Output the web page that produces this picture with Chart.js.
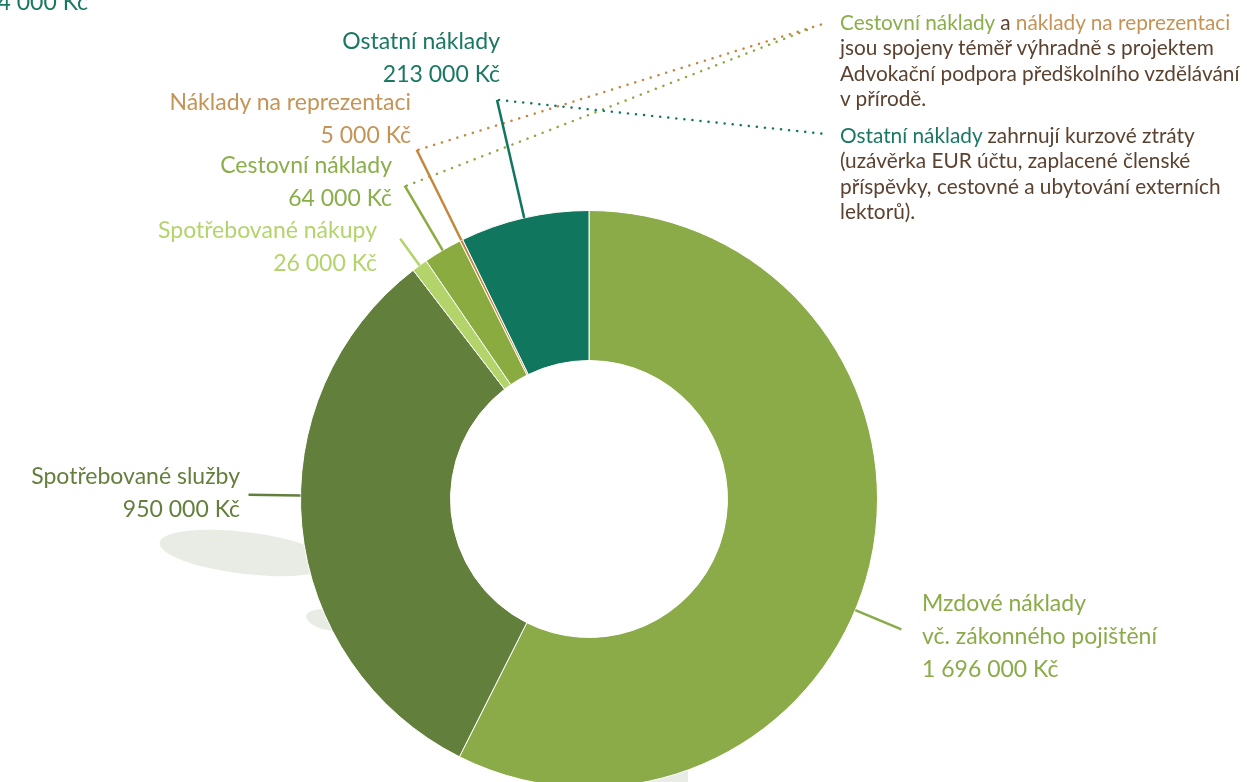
<!DOCTYPE html>
<html lang="cs">
<head>
<meta charset="UTF-8">
<title>Náklady</title>
<script src="https://cdn.jsdelivr.net/npm/chart.js"></script>
<style>
  html, body { margin: 0; padding: 0; overflow: hidden; background: #fff; }
  body { width: 1247px; height: 782px; position: relative; font-family: Lato, "Open Sans", sans-serif; }
  #costChart { position: absolute; left: 0; top: 0; }
  .lbl { position: absolute; font-size: 23px; line-height: 33px; white-space: nowrap; }
  .r { text-align: right; }
  .note { position: absolute; left: 840px; font-size: 20.8px; line-height: 25.5px; color: #5b4230; white-space: nowrap; }
</style>
</head>
<body>
<canvas id="costChart" width="1247" height="800"></canvas>
<div id="labels"></div>
<script>
// data
const categories = ['Mzdové náklady', 'Spotřebované služby', 'Spotřebované nákupy', 'Cestovní náklady', 'Náklady na reprezentaci', 'Ostatní náklady'];
const values = [1696000, 950000, 26000, 64000, 5000, 213000];
const colors = ['#8aab48', '#637f3c', '#b3d46b', '#8aab3f', '#c4873f', '#10765e'];
const textColors = ['#8aab48', '#647f3d', '#b3d46b', '#8aae4c', '#c69356', '#1a7862'];

const fmt = v => String(v).replace(/\B(?=(\d{3})+(?!\d))/g, ' ') + ' Kč';
const total = values.reduce((a, b) => a + b, 0);

// label boxes (page positions)
const labelPos = [
  { left: 922, top: 586, lines: ['Mzdové náklady', 'vč. zákonného pojištění'] },
  { right: 1007, top: 459 },
  { right: 870, top: 213 },
  { right: 855, top: 148 },
  { right: 836, top: 84.5 },
  { right: 747, top: 23.5 }
];
// leader lines: position inside slice (0..1), length outside the ring, optional dotted target
const leaders = [
  { frac: 0.545, len: 50 },
  { frac: 0.553, len: 52 },
  { frac: 0.5, len: 33 },
  { frac: 0.5, len: 75, dotTo: [812, 28] },
  { frac: 0.5, len: 101, dotTo: [826, 23] },
  { frac: 0.5, len: 121, dotTo: [826, 134] }
];

const box = document.getElementById('labels');
categories.forEach((c, i) => {
  const p = labelPos[i];
  const d = document.createElement('div');
  d.className = 'lbl' + (p.right !== undefined ? ' r' : '');
  d.style.color = textColors[i];
  d.style.top = p.top + 'px';
  if (p.right !== undefined) d.style.right = p.right + 'px'; else d.style.left = p.left + 'px';
  const lines = (p.lines || [c]).concat([fmt(values[i])]);
  d.innerHTML = lines.join('<br>');
  box.appendChild(d);
});
const tot = document.createElement('div');
tot.className = 'lbl r';
tot.style.cssText = 'right:1159px;top:-11px;font-size:23px;line-height:24px;color:#1a7862';
tot.textContent = fmt(total);
box.appendChild(tot);

box.insertAdjacentHTML('beforeend',
  '<div class="note" style="top:8.5px"><span style="color:#8aae4c">Cestovní náklady</span> a <span style="color:#c69356">náklady na reprezentaci</span><br>jsou spojeny téměř výhradně s projektem<br>Advokační podpora předškolního vzdělávání<br>v přírodě.</div>' +
  '<div class="note" style="top:121.5px"><span style="color:#1a7862">Ostatní náklady</span> zahrnují kurzové ztráty<br>(uzávěrka EUR účtu, zaplacené členské<br>příspěvky, cestovné a ubytování externích<br>lektorů).</div>');

// background leaves + leader lines
const decor = {
  id: 'decor',
  beforeDatasetsDraw(chart) {
    const ctx = chart.ctx;
    ctx.save();
    ctx.fillStyle = '#e9ece4';
    ctx.beginPath();
    ctx.ellipse(245, 553, 86, 21, 0.12, 0, Math.PI * 2);
    ctx.fill();
    ctx.beginPath();
    ctx.ellipse(328, 620, 22, 10, 0.2, 0, Math.PI * 2);
    ctx.fill();
    ctx.fillRect(600, 768, 88, 20);
    ctx.restore();
  },
  afterDatasetsDraw(chart) {
    const ctx = chart.ctx;
    const arcs = chart.getDatasetMeta(0).data;
    ctx.save();
    arcs.forEach((arc, i) => {
      const L = leaders[i];
      const a = arc.startAngle + (arc.endAngle - arc.startAngle) * L.frac;
      const r0 = arc.outerRadius, r1 = arc.outerRadius + L.len;
      const x0 = arc.x + Math.cos(a) * r0, y0 = arc.y + Math.sin(a) * r0;
      const x1 = arc.x + Math.cos(a) * r1, y1 = arc.y + Math.sin(a) * r1;
      ctx.strokeStyle = colors[i];
      ctx.lineWidth = 2.5;
      ctx.setLineDash([]);
      ctx.beginPath();
      ctx.moveTo(x0, y0);
      ctx.lineTo(x1, y1);
      ctx.stroke();
      if (L.dotTo) {
        ctx.lineWidth = 2.5;
        ctx.lineCap = 'round';
        ctx.setLineDash([0.1, 8]);
        ctx.beginPath();
        ctx.moveTo(x1 + 2, y1);
        ctx.lineTo(L.dotTo[0], L.dotTo[1]);
        ctx.stroke();
        ctx.lineCap = 'butt';
      }
    });
    ctx.restore();
  }
};

new Chart(document.getElementById('costChart'), {
  type: 'doughnut',
  data: {
    labels: categories,
    datasets: [{
      data: values,
      backgroundColor: colors,
      borderColor: '#ffffff',
      borderWidth: 1
    }]
  },
  options: {
    responsive: false,
    animation: false,
    cutout: '48%',
    layout: { padding: { left: 300, right: 369, top: 210, bottom: 12 } },
    plugins: { legend: { display: false }, tooltip: { enabled: false } }
  },
  plugins: [decor]
});
</script>
</body>
</html>
